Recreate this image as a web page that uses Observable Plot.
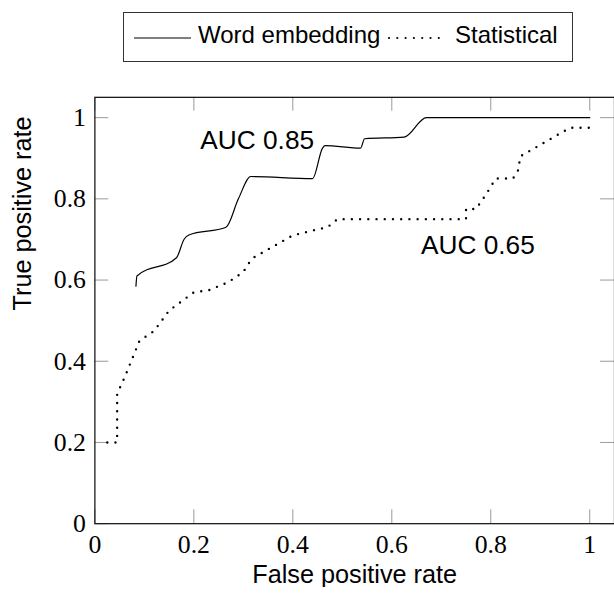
<!DOCTYPE html>
<html>
<head>
<meta charset="utf-8">
<script src="https://cdn.jsdelivr.net/npm/d3@7"></script>
<script src="https://cdn.jsdelivr.net/npm/@observablehq/plot@0.6"></script>
<style>
  html, body { margin: 0; padding: 0; overflow: hidden; background: #fff; width: 614px; height: 593px; }
  #wrap { position: relative; width: 614px; height: 593px; }
  #legend { position: absolute; left: 123px; top: 12px; width: 448px; height: 48px; border: 1.3px solid #333; background: #fff;
    font-family: "Liberation Sans", Arial, sans-serif; font-size: 24px; color: #000; }
  #legend .t { position: absolute; top: 8px; line-height: 28px; white-space: nowrap; }
  #legend svg { position: absolute; left: 0; top: 0; }
</style>
</head>
<body>
<div id="wrap">
  <div id="chart"></div>
  <div id="legend">
    <svg width="448" height="48">
      <line x1="10" x2="67" y1="25" y2="25" stroke="#000" stroke-width="1.2"/>
      <line x1="265" x2="320" y1="25" y2="25" stroke="#000" stroke-width="2.2" stroke-dasharray="0 8.3" stroke-linecap="round"/>
    </svg>
    <span class="t" style="left:74px">Word embedding</span>
    <span class="t" style="left:331px">Statistical</span>
  </div>
</div>
<script>
// Word embedding ROC curve (smooth)
const fprWE = [0.083, 0.085, 0.165, 0.18, 0.19, 0.265, 0.29, 0.315, 0.44, 0.46, 0.465, 0.537, 0.545, 0.625, 0.67, 0.8, 1.0];
const tprWE = [0.585, 0.61, 0.655, 0.7, 0.711, 0.73, 0.8, 0.855, 0.85, 0.925, 0.931, 0.925, 0.948, 0.952, 1.0, 1.0, 1.0];

// Statistical ROC curve (dotted)
const fprST = [0.025, 0.045, 0.045, 0.06, 0.08, 0.09, 0.12, 0.15, 0.2, 0.23, 0.27, 0.3, 0.31, 0.32, 0.4, 0.45, 0.47, 0.49, 0.75, 0.75, 0.77, 0.79, 0.81, 0.845, 0.855, 0.86, 0.96, 1.0];
const tprST = [0.2, 0.2, 0.32, 0.36, 0.42, 0.45, 0.475, 0.525, 0.57, 0.575, 0.595, 0.62, 0.64, 0.655, 0.71, 0.725, 0.73, 0.75, 0.75, 0.775, 0.775, 0.81, 0.85, 0.85, 0.87, 0.905, 0.975, 0.975];

// Annotations
const annLabels = ["AUC 0.85", "AUC 0.65"];
const annX = [0.328, 0.774];
const annY = [0.944, 0.684];

// Ticks
const xTicks = [0, 0.2, 0.4, 0.6, 0.8, 1];
const yTicks = [0, 0.2, 0.4, 0.6, 0.8, 1];
const xTitle = "False positive rate";
const yTitle = "True positive rate";

const we = fprWE.map((x, i) => ({x, y: tprWE[i]}));
const st = fprST.map((x, i) => ({x, y: tprST[i]}));
const ann = annLabels.map((t, i) => ({t, x: annX[i], y: annY[i]}));

const W = 620, H = 593;
const mL = 95.3, mR = 0, mT = 97.8, mB = 593 - 528.3;
const fh = H - mT - mB, fw = W - mL - mR;
const tickLen = 14;
const serif = "'Liberation Serif', 'Times New Roman', serif";
const sans = "'Liberation Sans', Arial, sans-serif";
const fmt = d => `${d}`;

const chart = Plot.plot({
  width: W, height: H,
  marginLeft: mL, marginRight: mR, marginTop: mT, marginBottom: mB,
  x: {domain: [0, 1.05], label: null},
  y: {domain: [0, 1.05], label: null},
  marks: [
    Plot.tickX(xTicks, {insetTop: fh - tickLen, stroke: "#999", strokeWidth: 1}),
    Plot.tickX(xTicks, {insetBottom: fh - tickLen, stroke: "#999", strokeWidth: 1}),
    Plot.tickY(yTicks, {insetRight: fw - tickLen, stroke: "#999", strokeWidth: 1}),
    Plot.tickY(yTicks, {insetLeft: fw - tickLen, stroke: "#999", strokeWidth: 1}),
    Plot.axisX(xTicks, {anchor: "bottom", tickSize: 0, tickPadding: 11, tickFormat: fmt, fontFamily: serif, fontSize: 26, label: null, fill: "#000"}),
    Plot.axisY(yTicks, {anchor: "left", tickSize: 0, tickPadding: 9, tickFormat: fmt, fontFamily: serif, fontSize: 26, label: null, fill: "#000"}),
    Plot.line(we, {x: "x", y: "y", curve: "monotone-x", stroke: "#000", strokeWidth: 1.2}),
    Plot.line(st, {x: "x", y: "y", stroke: "#000", strokeWidth: 2.4, strokeDasharray: "0 8.3", strokeLinecap: "round"}),
    Plot.text(ann, {x: "x", y: "y", text: "t", fontFamily: sans, fontSize: 26.5, fill: "#000"}),
    Plot.text([xTitle], {frameAnchor: "bottom", lineAnchor: "middle", dy: 52, fontFamily: sans, fontSize: 25.5, fill: "#000"}),
    Plot.text([yTitle], {frameAnchor: "left", lineAnchor: "middle", dx: -73, rotate: -90, fontFamily: sans, fontSize: 25.5, fill: "#000"}),
    Plot.frame({stroke: "#1a1a1a", strokeWidth: 1.3})
  ]
});
document.getElementById("chart").appendChild(chart);
</script>
</body>
</html>
